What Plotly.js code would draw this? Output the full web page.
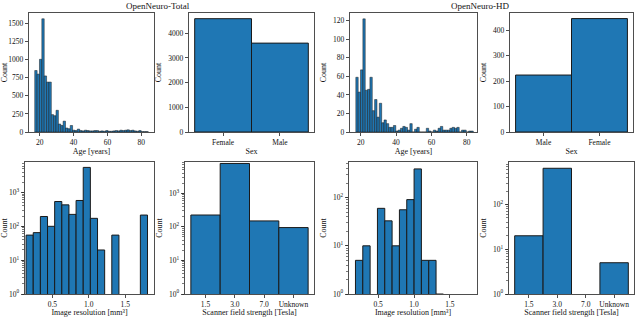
<!DOCTYPE html>
<html><head><meta charset="utf-8">
<script src="https://cdn.plot.ly/plotly-3.0.1.min.js"></script>
<style>html,body{margin:0;padding:0;background:#fff}#c{width:640px;height:317px}</style>
</head><body><div id="c"></div>
<script>
// ---------- data ----------
const ageTotalStart = 17, ageTotalWidth = 1.4;
const ageTotalCounts = [850,800,1005,1565,775,690,690,240,225,300,110,90,150,55,45,90,25,20,40,20,15,25,20,15,15,20,20,10,15,10,20,10,10,15,20,15,25,20,25,30,20,25,15,10,20,5,5,5];
const sexTotalCats = ["Female","Male"];
const sexTotalCounts = [4590,3600];
const ageHDStart = 17.2, ageHDWidth = 1.33;
const ageHDCounts = [59,43,67,122,45,46,59,23,35,16,31,10,13,9,5,5,7,1,2,4,6,5,2,9,0,3,5,0,0,0,4,1,0,2,1,4,6,2,2,2,4,5,4,5,0,2,2,0,1,1];
const sexHDCats = ["Male","Female"];
const sexHDCounts = [224,446];
const resTotalStart = 0.14, resTotalWidth = 0.098;
const resTotalCounts = [55,65,195,100,540,430,225,580,5500,172,20,0,55,0,0,0,215];
const fieldCats = ["1.5","3.0","7.0","Unknown"];
const fieldTotalCounts = [225,7700,150,95];
const resHDStart = 0.185, resHDWidth = 0.102;
const resHDCounts = [5,10,0,60,33,10,56,91,395,5,5,1,0,0,0,0];
const fieldHDCounts = [20,645,0,5];
const titleTotal = "OpenNeuro-Total", titleHD = "OpenNeuro-HD";

// ---------- helpers ----------
const W = 640, H = 317;
const FONT = "Liberation Serif";
const BLUE = "#1f77b4";
function centers(start, w, counts){ return counts.map((_, i) => start + (i + 0.5) * w); }
function dx(a, b){ return [a / W, b / W]; }
function dy(top, bot){ return [1 - bot / H, 1 - top / H]; }
function histTrace(start, w, counts, xa, ya, lw){
  return {type:"bar", x:centers(start, w, counts), y:counts, width:w,
    marker:{color:BLUE, line:{color:"#1a1a1a", width:lw}}, xaxis:xa, yaxis:ya, hoverinfo:"skip", showlegend:false};
}
function catTrace(cats, counts, xa, ya){
  return {type:"bar", x:cats, y:counts, width:1,
    marker:{color:BLUE, line:{color:"#1a1a1a", width:1}}, xaxis:xa, yaxis:ya, hoverinfo:"skip", showlegend:false};
}
const base = {showline:true, mirror:true, linecolor:"#222", linewidth:0.8, ticks:"outside", ticklen:3.5, tickwidth:0.8,
  tickcolor:"#222", showgrid:false, zeroline:false, tickfont:{family:FONT, size:7.5, color:"#111"}, fixedrange:true};
function ax(extra){ return Object.assign({}, base, extra); }
function ttl(t, st){ return {text:t, font:{family:FONT, size:8, color:"#111"}, standoff:st}; }
function supLog(n){ const v=[], t=[]; for(let i=0;i<=n;i++){ v.push(Math.pow(10,i)); t.push("10<sup>"+i+"</sup>"); } return {tickvals:v, ticktext:t}; }
const minorLog = {ticks:"outside", ticklen:2, tickwidth:0.6, tickcolor:"#222", dtick:"D1", showgrid:false};

const data = [
  histTrace(ageTotalStart, ageTotalWidth, ageTotalCounts, "x", "y", 0.5),
  catTrace(sexTotalCats, sexTotalCounts, "x2", "y2"),
  histTrace(ageHDStart, ageHDWidth, ageHDCounts, "x3", "y3", 0.5),
  catTrace(sexHDCats, sexHDCounts, "x4", "y4"),
  histTrace(resTotalStart, resTotalWidth, resTotalCounts, "x5", "y5", 1),
  catTrace(fieldCats, fieldTotalCounts, "x6", "y6"),
  histTrace(resHDStart, resHDWidth, resHDCounts, "x7", "y7", 1),
  catTrace(fieldCats, fieldHDCounts, "x8", "y8")
];

const lt = supLog(3), lh = supLog(2);
const layout = {
  width:W, height:H, margin:{l:0,r:0,t:0,b:0}, paper_bgcolor:"#fff", plot_bgcolor:"#fff",
  bargap:0, showlegend:false, font:{family:FONT, color:"#111"},
  xaxis: ax({domain:dx(29,154), anchor:"y", range:[13.6,87.6], tickvals:[20,40,60,80], title:ttl("Age [years]",2)}),
  yaxis: ax({domain:dy(13,132), anchor:"x", range:[0,1645], tickvals:[0,250,500,750,1000,1250,1500], title:ttl("Count",5)}),
  xaxis2: ax({domain:dx(189,314), anchor:"y2", type:"category", range:[-0.6,1.6], title:ttl("Sex",2)}),
  yaxis2: ax({domain:dy(13,132), anchor:"x2", range:[0,4820], tickvals:[0,1000,2000,3000,4000], title:ttl("Count",5)}),
  xaxis3: ax({domain:dx(350,477), anchor:"y3", range:[13.9,85.8], tickvals:[20,40,60,80], title:ttl("Age [years]",2)}),
  yaxis3: ax({domain:dy(13,132), anchor:"x3", range:[0,128.3], tickvals:[0,20,40,60,80,100,120], title:ttl("Count",5)}),
  xaxis4: ax({domain:dx(510,633), anchor:"y4", type:"category", range:[-0.6,1.6], title:ttl("Sex",2)}),
  yaxis4: ax({domain:dy(13,132), anchor:"x4", range:[0,468], tickvals:[0,100,200,300,400], title:ttl("Count",5)}),
  xaxis5: ax({domain:dx(25,154), anchor:"y5", range:[0.125,1.895], tickvals:[0.5,1.0,1.5], ticktext:["0.5","1.0","1.5"], title:ttl("Image resolution [mm³]",0)}),
  yaxis5: ax({domain:dy(162,294), anchor:"x5", type:"log", range:[0,3.9], tickvals:lt.tickvals, ticktext:lt.ticktext, minor:minorLog, title:ttl("Count",5)}),
  xaxis6: ax({domain:dx(185,314), anchor:"y6", type:"category", range:[-0.7,3.7], title:ttl("Scanner field strength [Tesla]",0)}),
  yaxis6: ax({domain:dy(162,294), anchor:"x6", type:"log", range:[0,3.93], tickvals:lt.tickvals, ticktext:lt.ticktext, minor:minorLog, title:ttl("Count",5)}),
  xaxis7: ax({domain:dx(349,477), anchor:"y7", range:[0.095,1.877], tickvals:[0.5,1.0,1.5], ticktext:["0.5","1.0","1.5"], title:ttl("Image resolution [mm³]",0)}),
  yaxis7: ax({domain:dy(162,294), anchor:"x7", type:"log", range:[0,2.74], tickvals:lh.tickvals, ticktext:lh.ticktext, minor:minorLog, title:ttl("Count",5)}),
  xaxis8: ax({domain:dx(509,634), anchor:"y8", type:"category", range:[-0.7,3.7], title:ttl("Scanner field strength [Tesla]",0)}),
  yaxis8: ax({domain:dy(162,294), anchor:"x8", type:"log", range:[0,2.95], tickvals:lh.tickvals, ticktext:lh.ticktext, minor:minorLog, title:ttl("Count",5)}),
  annotations:[
    {text:titleTotal, xref:"paper", yref:"paper", x:158/W, y:1-6/H, showarrow:false, xanchor:"center", yanchor:"middle", font:{family:FONT, size:9, color:"#111"}},
    {text:titleHD, xref:"paper", yref:"paper", x:480/W, y:1-6/H, showarrow:false, xanchor:"center", yanchor:"middle", font:{family:FONT, size:9, color:"#111"}}
  ]
};
Plotly.newPlot("c", data, layout, {staticPlot:true, displayModeBar:false});
</script></body></html>
